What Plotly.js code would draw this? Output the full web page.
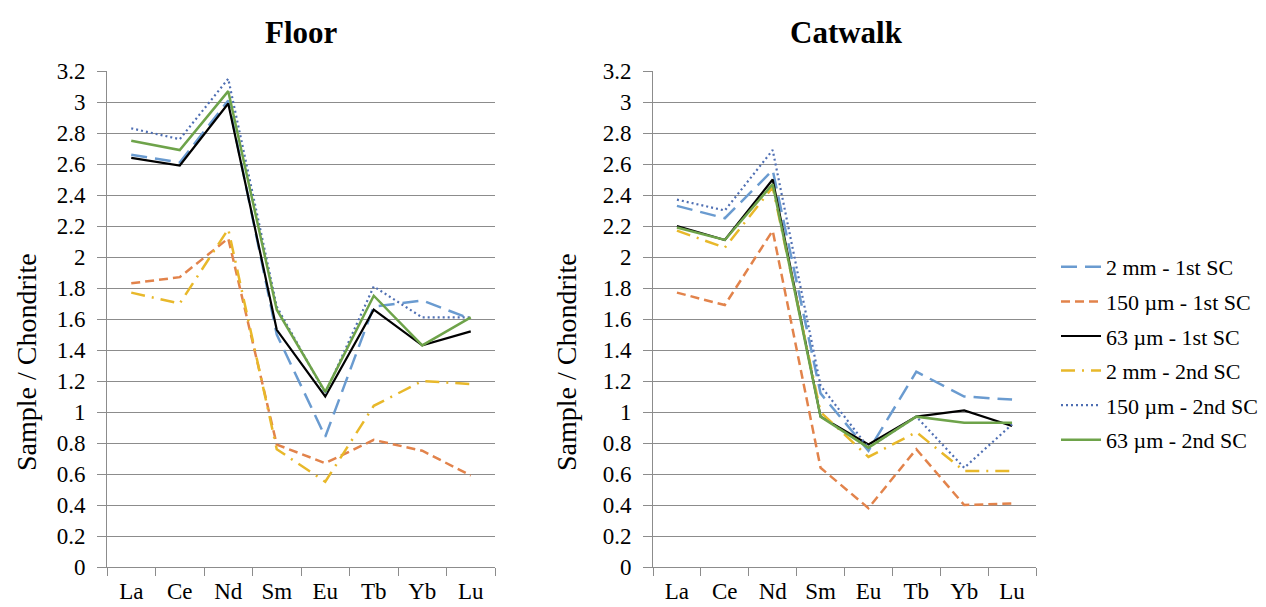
<!DOCTYPE html>
<html>
<head>
<meta charset="utf-8">
<script src="https://cdn.plot.ly/plotly-3.0.1.min.js"></script>
<style>html,body{margin:0;padding:0;background:#fff;}#chart{width:1266px;height:607px;}</style>
</head>
<body>
<div id="chart"></div>
<script>
// Categories (rare earth elements)
const categories = ['La','Ce','Nd','Sm','Eu','Tb','Yb','Lu'];

// Series names
const seriesNames = ['2 mm - 1st SC','150 µm - 1st SC','63 µm - 1st SC','2 mm - 2nd SC','150 µm - 2nd SC','63 µm - 2nd SC'];

// Floor values (Sample / Chondrite)
const floor_2mm_1st   = [2.66, 2.61, 3.01, 1.50, 0.84, 1.68, 1.72, 1.60];
const floor_150um_1st = [1.83, 1.87, 2.12, 0.79, 0.67, 0.82, 0.75, 0.59];
const floor_63um_1st  = [2.64, 2.59, 2.99, 1.53, 1.10, 1.66, 1.43, 1.52];
const floor_2mm_2nd   = [1.77, 1.70, 2.18, 0.76, 0.55, 1.04, 1.20, 1.18];
const floor_150um_2nd = [2.83, 2.76, 3.15, 1.68, 1.12, 1.81, 1.61, 1.61];
const floor_63um_2nd  = [2.75, 2.69, 3.07, 1.66, 1.13, 1.75, 1.43, 1.61];

// Catwalk values (Sample / Chondrite)
const cat_2mm_1st   = [2.33, 2.25, 2.56, 1.12, 0.75, 1.26, 1.10, 1.08];
const cat_150um_1st = [1.77, 1.69, 2.17, 0.64, 0.38, 0.76, 0.40, 0.41];
const cat_63um_1st  = [2.20, 2.11, 2.50, 0.97, 0.79, 0.97, 1.01, 0.91];
const cat_2mm_2nd   = [2.17, 2.06, 2.45, 1.00, 0.71, 0.87, 0.62, 0.62];
const cat_150um_2nd = [2.37, 2.30, 2.69, 1.17, 0.77, 0.97, 0.64, 0.92];
const cat_63um_2nd  = [2.19, 2.11, 2.47, 0.97, 0.77, 0.97, 0.93, 0.93];

const floorSeries = [floor_2mm_1st, floor_150um_1st, floor_63um_1st, floor_2mm_2nd, floor_150um_2nd, floor_63um_2nd];
const catSeries   = [cat_2mm_1st, cat_150um_1st, cat_63um_1st, cat_2mm_2nd, cat_150um_2nd, cat_63um_2nd];

const styles = [
  {color:'#6a9bd0', width:2.5, dash:'16px,8px'},
  {color:'#e2834b', width:2.5, dash:'9px,5px'},
  {color:'#000000', width:2.2, dash:'solid'},
  {color:'#e8b82a', width:2.5, dash:'14px,7px,2px,7px'},
  {color:'#4f6fb3', width:2.2, dash:'2px,3px'},
  {color:'#6ea34a', width:2.5, dash:'solid'}
];

const traces = [];
floorSeries.forEach((vals, i) => {
  traces.push({x: categories, y: vals, type:'scatter', mode:'lines', name: seriesNames[i],
    line: styles[i], xaxis:'x', yaxis:'y', legendgroup:'g'+i, showlegend:true, hoverinfo:'y'});
});
catSeries.forEach((vals, i) => {
  traces.push({x: categories, y: vals, type:'scatter', mode:'lines', name: seriesNames[i],
    line: styles[i], xaxis:'x2', yaxis:'y2', legendgroup:'g'+i, showlegend:false, hoverinfo:'y'});
});

const W = 1266, H = 607;
const font = '"Liberation Serif"';
const grid = '#8c8c8c';

function xax(d0, d1, anchor){
  return {domain:[d0/W, d1/W], anchor: anchor, type:'category', range:[-0.5, 7.5],
    tickson:'boundaries', ticks:'outside', ticklen:8, tickcolor:grid, tickwidth:1, ticklabelstandoff:3,
    showline:true, linecolor:grid, linewidth:1, showgrid:false, zeroline:false,
    tickfont:{family:font, size:23, color:'#000'}, fixedrange:true};
}
function yax(anchor){
  return {domain:[(H-567)/H, (H-71)/H], anchor: anchor, range:[0, 3.2], dtick:0.2, tick0:0,
    ticks:'outside', ticklen:9, tickcolor:grid, tickwidth:1, ticklabelstandoff:7,
    showline:true, linecolor:grid, linewidth:1, showgrid:true, gridcolor:grid, gridwidth:1,
    zeroline:false, tickfont:{family:font, size:23, color:'#000'},
    fixedrange:true};
}

const ann = (text, x, y, size, angle) => ({text, xref:'paper', yref:'paper', x:x/W, y:(H-y)/H,
  xanchor:'center', yanchor:'middle', showarrow:false, textangle:angle||0,
  font:{family:font, size:size, color:'#000'}});

const layout = {
  width: W, height: H,
  font:{family:font, color:'#000'},
  margin:{l:0, r:0, t:0, b:0},
  paper_bgcolor:'#fff', plot_bgcolor:'#fff',
  showlegend:true,
  xaxis: xax(107, 495, 'y'),
  yaxis: yax('x'),
  xaxis2: xax(653, 1036, 'y2'),
  yaxis2: yax('x2'),
  legend:{x:1056/W, xanchor:'left', y:(H-246)/H, yanchor:'top', font:{family:font, size:22, color:'#000'},
    tracegroupgap:3, itemwidth:40, bgcolor:'rgba(0,0,0,0)'},
  annotations:[
    ann('<b>Floor</b>', 301, 33, 31),
    ann('<b>Catwalk</b>', 846, 33, 31),
    ann('Sample / Chondrite', 26, 362, 28, -90),
    ann('Sample / Chondrite', 566, 362, 28, -90)
  ]
};

Plotly.newPlot('chart', traces, layout, {displayModeBar:false, staticPlot:true});
</script>
</body>
</html>
